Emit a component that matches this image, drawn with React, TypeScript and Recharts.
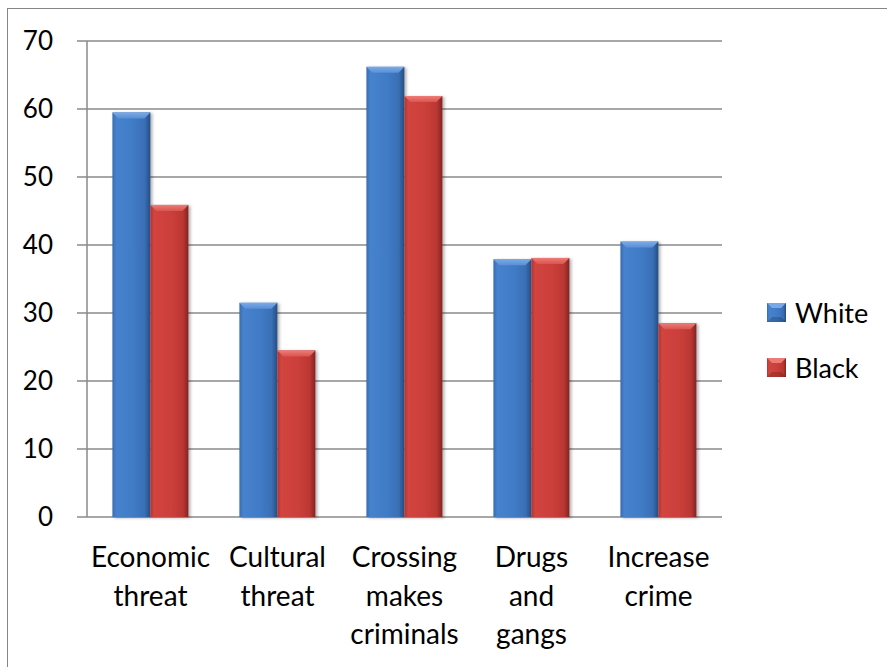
import React from "react";
import { Bar, BarChart, CartesianGrid, Legend, XAxis, YAxis } from "recharts";

// Survey chart: share of respondents naming each concern, by group.

const categories = [
  "Economic threat",
  "Cultural threat",
  "Crossing makes criminals",
  "Drugs and gangs",
  "Increase crime",
];
const seriesNames = ["White", "Black"];
const whiteValues = [59.5, 31.5, 66.2, 37.9, 40.5];
const blackValues = [45.9, 24.5, 61.9, 38.1, 28.5];
const yTicks = [0, 10, 20, 30, 40, 50, 60, 70];
// category boundaries, used only for the tick marks under the x axis
const boundaryTicks = [0, 1, 2, 3, 4, 5];

const data = categories.map((name, i) => ({
  name,
  White: whiteValues[i],
  Black: blackValues[i],
}));

const FONT = "Lato, 'Open Sans', sans-serif";
const GRID = "#8a8a8a";

type Tone = { id: string; top: string; main: string };

const TONES: Record<string, Tone> = {
  White: { id: "blueBody", top: "#78a9e6", main: "#4a7ebb" },
  Black: { id: "redBody", top: "#ec7a75", main: "#c0504d" },
};

// Office-style bevelled column: horizontal shading plus a lighter top facet
const BevelBar = ({ x, y, width, height, tone }: any) => {
  if (!height || height <= 0) return null;
  const b = Math.min(6, width / 4, height / 2);
  return (
    <g filter="url(#barShadow)">
      <rect x={x} y={y} width={width} height={height} fill={`url(#${tone.id})`} />
      <polygon
        points={`${x},${y} ${x + width},${y} ${x + width - b},${y + b} ${x + b},${y + b}`}
        fill={`url(#${tone.id}Top)`}
      />
    </g>
  );
};

const LegendSquare = ({ tone }: { tone: Tone }) => (
  <svg width={19} height={19} style={{ display: "block" }}>
    <rect x={0} y={0} width={19} height={19} fill={`url(#${tone.id})`} />
    <polygon points="0,0 19,0 14,5 5,5" fill={tone.top} />
    <polygon points="0,19 19,19 14,14 5,14" fill="#000" opacity={0.18} />
  </svg>
);

const renderLegend = (props: any) => {
  // keep the series order (recharts sorts legend items by name otherwise)
  const items = [...(props.payload || [])].sort(
    (a: any, b: any) => seriesNames.indexOf(a.dataKey) - seriesNames.indexOf(b.dataKey)
  );
  return (
    <div style={{ width: 110, fontFamily: FONT }}>
      {items.map((entry: any) => (
        <div
          key={entry.value}
          style={{ display: "flex", alignItems: "center", height: 55 }}
        >
          <LegendSquare tone={TONES[entry.dataKey]} />
          <span style={{ marginLeft: 9, fontSize: 27, color: "#000", lineHeight: 1 }}>
            {entry.value}
          </span>
        </div>
      ))}
    </div>
  );
};

const CategoryTick = ({ x, y, payload }: any) => {
  const words = String(payload.value).split(" ");
  return (
    <text x={x} y={y} textAnchor="middle" fontSize={28} fill="#000" fontFamily={FONT}>
      {words.map((w, i) => (
        <tspan key={i} x={x} dy={i === 0 ? 50 : 38.5}>
          {w}
        </tspan>
      ))}
    </text>
  );
};

export default function App() {
  return (
    <div
      style={{
        position: "absolute",
        left: 7,
        top: 8,
        width: 880,
        height: 659,
        boxSizing: "border-box",
        borderTop: "1px solid #858585",
        borderLeft: "1px solid #858585",
        fontFamily: FONT,
        background: "#fff",
      }}
    >
      <style>{"html{overflow:hidden}"}</style>
      <BarChart
        width={879}
        height={658}
        data={data}
        margin={{ top: 32, right: 55, bottom: 10, left: 0 }}
        barCategoryGap="20%"
        barGap={0}
      >
        <defs>
          <linearGradient id="blueBody" x1="0" y1="0" x2="1" y2="0">
            <stop offset="0" stopColor="#386cb0" />
            <stop offset="0.1" stopColor="#4682cd" />
            <stop offset="0.55" stopColor="#417bc6" />
            <stop offset="0.85" stopColor="#396fb5" />
            <stop offset="1" stopColor="#264d80" />
          </linearGradient>
          <linearGradient id="blueBodyTop" x1="0" y1="0" x2="0" y2="1">
            <stop offset="0" stopColor="#7aaae6" />
            <stop offset="1" stopColor="#5a8fd6" />
          </linearGradient>
          <linearGradient id="redBody" x1="0" y1="0" x2="1" y2="0">
            <stop offset="0" stopColor="#b23532" />
            <stop offset="0.1" stopColor="#d2443f" />
            <stop offset="0.55" stopColor="#cb3f3a" />
            <stop offset="0.85" stopColor="#bb3733" />
            <stop offset="1" stopColor="#832523" />
          </linearGradient>
          <linearGradient id="redBodyTop" x1="0" y1="0" x2="0" y2="1">
            <stop offset="0" stopColor="#ee7c77" />
            <stop offset="1" stopColor="#d9554f" />
          </linearGradient>
          <filter id="barShadow" x="-20%" y="-5%" width="150%" height="115%">
            <feDropShadow dx="2" dy="1" stdDeviation="1.5" floodColor="#000" floodOpacity="0.3" />
          </filter>
        </defs>
        <CartesianGrid
          xAxisId="cat"
          vertical={false}
          stroke={GRID}
          strokeWidth={1.5}
        />
        <XAxis
          xAxisId="frame"
          type="number"
          domain={[0, 5]}
          ticks={boundaryTicks}
          interval={0}
          height={0}
          tickSize={9}
          tick={() => <g />}
          axisLine={{ stroke: GRID, strokeWidth: 1.5 }}
          tickLine={{ stroke: GRID, strokeWidth: 1.5 }}
        />
        <XAxis
          xAxisId="cat"
          dataKey="name"
          height={140}
          interval={0}
          tickSize={0}
          tickMargin={0}
          axisLine={false}
          tickLine={false}
          tick={<CategoryTick />}
        />
        <YAxis
          domain={[0, 70]}
          ticks={yTicks}
          interval={0}
          width={79}
          tickSize={10}
          tickMargin={24}
          tick={{ fill: "#000", fontSize: 26, fontFamily: FONT }}
          axisLine={{ stroke: GRID, strokeWidth: 1.5 }}
          tickLine={{ stroke: GRID, strokeWidth: 1.5 }}
        />
        <Legend
          layout="vertical"
          align="right"
          verticalAlign="middle"
          content={renderLegend}
          wrapperStyle={{ left: 759, top: 276 }}
        />
        <Bar
          xAxisId="cat"
          dataKey="White"
          fill={TONES.White.main}
          isAnimationActive={false}
          shape={(p: any) => <BevelBar {...p} tone={TONES.White} />}
        />
        <Bar
          xAxisId="cat"
          dataKey="Black"
          fill={TONES.Black.main}
          isAnimationActive={false}
          shape={(p: any) => <BevelBar {...p} tone={TONES.Black} />}
        />
      </BarChart>
    </div>
  );
}
